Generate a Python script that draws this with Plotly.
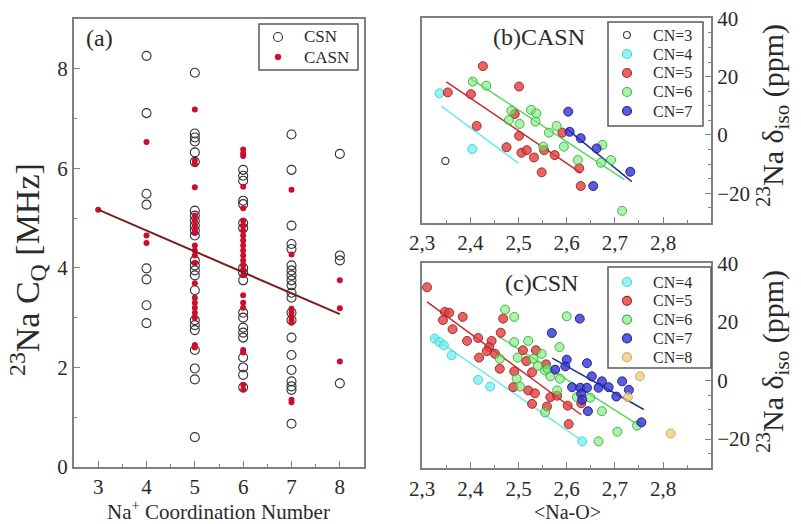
import plotly.graph_objects as go

# ---------------- Panel (a) data: 23Na CQ [MHz] by coordination number ----------------
csn_cn4 = [8.26, 7.11, 5.49, 5.27, 3.99, 3.77, 3.25, 2.89]
csn_cn5 = [7.92, 6.70, 6.62, 6.54, 6.32, 6.13, 5.15, 5.05, 4.95, 4.85, 4.75, 4.65,
           4.15, 4.05, 3.95, 3.85, 3.55, 2.95, 2.85, 2.75, 2.35, 1.98, 1.76, 0.60]
csn_cn6 = [5.97, 5.85, 5.75, 5.35, 5.28, 4.90, 4.80, 4.00, 3.90, 3.75, 3.10, 3.00,
           2.80, 2.70, 2.60, 2.20, 2.00, 1.85, 1.60]
csn_cn7 = [6.68, 5.97, 4.85, 4.48, 4.38, 4.05, 3.95, 3.85, 3.75, 3.65, 3.50, 3.40,
           3.10, 2.95, 2.60, 2.25, 1.95, 1.72, 1.62, 1.55, 0.87]
csn_cn8 = [6.29, 4.25, 4.15, 1.68]

casn_cn3 = [5.17]
casn_cn4 = [6.53, 4.65, 4.50]
casn_cn5 = [7.18, 6.15, 6.08, 5.62, 5.05, 4.95, 4.85, 4.75, 4.70, 4.45, 4.35, 4.25,
            4.10, 3.69, 3.40, 3.30, 3.20, 3.10, 3.00, 2.45, 2.40]
casn_cn6 = [6.38, 6.30, 6.25, 5.63, 5.20, 4.95, 4.85, 4.75, 4.65, 4.55, 4.45, 4.35,
            4.25, 4.15, 4.05, 3.95, 3.85, 3.45, 3.30, 3.20, 2.35, 2.30, 1.65, 1.55]
casn_cn7 = [5.57, 4.27, 3.18, 3.10, 3.02, 2.95, 2.90, 1.35, 1.30]
casn_cn8 = [3.75, 3.19, 2.12]

fit_a_x = [3, 8]
fit_a_slope = -0.42
fit_a_intercept = 6.43

# ---------------- Panel (b) CASN: <Na-O> vs delta_iso ----------------
b_cn3_x = [2.348]
b_cn3_y = [-8.9]
b_cn4_x = [2.336, 2.404]
b_cn4_y = [14.3, -4.8]
b_cn5_x = [2.426, 2.353, 2.401, 2.501, 2.413, 2.492, 2.501, 2.475, 2.506, 2.517, 2.532,
           2.553, 2.575, 2.548, 2.591, 2.626, 2.629]
b_cn5_y = [23.6, 14.6, 14.0, 16.6, 3.1, 7.2, -0.3, -4.2, -6.1, -5.2, -7.7,
           -5.2, -6.9, -12.8, 0.8, -11.4, -17.5]
b_cn6_x = [2.405, 2.433, 2.485, 2.480, 2.502, 2.526, 2.537, 2.535, 2.563, 2.579, 2.551,
           2.594, 2.623, 2.674, 2.692, 2.671, 2.715]
b_cn6_y = [18.3, 16.9, 8.3, 5.1, 3.8, 8.6, 7.4, 4.6, 0.8, 3.1, -4.0,
           -4.0, -8.6, -3.4, -8.6, -9.5, -26.0]
b_cn7_x = [2.603, 2.606, 2.629, 2.662, 2.655, 2.732]
b_cn7_y = [8.0, 1.1, -1.1, -4.6, -17.5, -12.6]

# linear fits (slope, intercept, x-span) per CN, panel b
b_fit_cn = [4, 5, 6, 7]
b_fit_slope = [-122.0, -111.7, -108.5, -134.0]
b_fit_intercept = [295.3, 280.7, 279.8, 350.5]
b_fit_x0 = [2.34, 2.35, 2.40, 2.60]
b_fit_x1 = [2.50, 2.63, 2.72, 2.735]

# ---------------- Panel (c) CSN ----------------
c_cn4_x = [2.326, 2.336, 2.345, 2.361, 2.416, 2.441, 2.632]
c_cn4_y = [14.3, 13.1, 12.0, 8.6, 0.2, -2.1, -20.8]
c_cn5_x = [2.310, 2.347, 2.356, 2.343, 2.384, 2.363, 2.393, 2.416, 2.444, 2.439, 2.418,
           2.434, 2.451, 2.468, 2.463, 2.461, 2.491, 2.509, 2.516, 2.536, 2.528, 2.489,
           2.520, 2.534, 2.557, 2.528, 2.566, 2.559, 2.580, 2.602, 2.604, 2.630]
c_cn5_y = [31.8, 23.4, 23.1, 20.6, 21.7, 17.5, 13.5, 14.5, 13.5, 11.4, 7.8,
           10.0, 9.1, 21.1, 16.3, 4.0, 3.1, 10.3, 6.6, 10.3, 2.8, -2.3,
           -3.4, -4.4, 5.5, -8.0, -5.7, -8.9, -5.2, -8.6, -14.9, -7.8]
c_cn6_x = [2.472, 2.491, 2.600, 2.491, 2.520, 2.548, 2.531, 2.498, 2.461, 2.585, 2.496,
           2.503, 2.555, 2.566, 2.586, 2.580, 2.621, 2.649, 2.673, 2.705, 2.666, 2.746,
           2.555, 2.540, 2.560]
c_cn6_y = [24.2, 21.7, 21.9, 13.1, 13.5, 9.1, 7.4, 7.8, 7.4, 11.4, 0.6,
           -2.1, 3.4, 1.4, 0.6, -3.4, -5.7, -5.9, -10.5, -17.5, -20.8, -15.4,
           -10.9, 5.0, 4.0]
c_cn7_x = [2.569, 2.600, 2.576, 2.627, 2.597, 2.642, 2.652, 2.673, 2.666, 2.687, 2.715,
           2.729, 2.703, 2.611, 2.628, 2.642, 2.630, 2.632, 2.644, 2.755]
c_cn7_y = [16.2, 7.1, 3.7, 21.1, 4.8, 5.9, 1.4, -0.3, -2.5, -2.3, -0.3,
           -3.2, -5.5, -2.3, -2.5, -2.5, -4.6, -6.6, -10.5, -14.3]
c_cn8_x = [2.752, 2.727, 2.816]
c_cn8_y = [1.4, -5.7, -18.1]

c_fit_cn = [4, 5, 6, 7]
c_fit_slope = [-114.2, -120.5, -104.2, -92.4]
c_fit_intercept = [280.0, 305.2, 271.2, 245.1]
c_fit_x0 = [2.32, 2.31, 2.46, 2.57]
c_fit_x1 = [2.63, 2.63, 2.75, 2.76]

# ---------------- styles ----------------
FONT = "Liberation Serif"
TXT = "#2a2a2a"
AX = "#808080"
fill = {3: "rgba(0,0,0,0)", 4: "rgba(110,240,240,0.75)", 5: "rgba(228,60,60,0.8)",
        6: "rgba(120,232,120,0.6)", 7: "rgba(50,50,215,0.8)", 8: "rgba(240,200,120,0.75)"}
edge = {3: "#444444", 4: "rgba(70,205,205,0.9)", 5: "rgba(150,35,35,0.9)",
        6: "rgba(50,175,50,0.9)", 7: "rgba(25,25,120,0.9)", 8: "rgba(205,165,85,0.9)"}
linec = {4: "#6eeaea", 5: "#c42a2a", 6: "#5ad85a", 7: "#24308f"}
CSN_STYLE = dict(fill="rgba(0,0,0,0)", edge="#333333", r=4.5, lw=1.1)
CASN_STYLE = dict(fill="#c8102e", edge="#c8102e", r=3.0, lw=0.5)

W, H = 801, 524
fig = go.Figure()

# Panel (a)
csn_sets = [(4, csn_cn4), (5, csn_cn5), (6, csn_cn6), (7, csn_cn7), (8, csn_cn8)]
casn_sets = [(3, casn_cn3), (4, casn_cn4), (5, casn_cn5), (6, casn_cn6), (7, casn_cn7), (8, casn_cn8)]
cx, cy = [], []
for cn, vals in csn_sets:
    cx += [cn] * len(vals)
    cy += vals
ax_, ay_ = [], []
for cn, vals in casn_sets:
    ax_ += [cn] * len(vals)
    ay_ += vals

fig.add_trace(go.Scatter(x=cx, y=cy, mode="markers", name="CSN",
                         marker=dict(symbol="circle-open", size=2 * CSN_STYLE["r"],
                                     color=CSN_STYLE["edge"], line=dict(width=CSN_STYLE["lw"])),
                         xaxis="x", yaxis="y"))
fig.add_trace(go.Scatter(x=ax_, y=ay_, mode="markers", name="CASN",
                         marker=dict(symbol="circle", size=2 * CASN_STYLE["r"], color=CASN_STYLE["fill"]),
                         xaxis="x", yaxis="y"))
fig.add_trace(go.Scatter(x=fit_a_x, y=[fit_a_intercept + fit_a_slope * v for v in fit_a_x],
                         mode="lines", line=dict(color="#7a1f1f", width=2),
                         xaxis="x", yaxis="y"))

# Panel (b)
b_sets = [(3, b_cn3_x, b_cn3_y), (4, b_cn4_x, b_cn4_y), (5, b_cn5_x, b_cn5_y),
          (6, b_cn6_x, b_cn6_y), (7, b_cn7_x, b_cn7_y)]
for i, cn in enumerate(b_fit_cn):
    xs = [b_fit_x0[i], b_fit_x1[i]]
    fig.add_trace(go.Scatter(x=xs, y=[b_fit_intercept[i] + b_fit_slope[i] * v for v in xs],
                             mode="lines", line=dict(color=linec[cn], width=1.5),
                             xaxis="x2", yaxis="y2"))
for cn, xs, ys in b_sets:
    if cn == 3:
        mk = dict(symbol="circle-open", size=7, color=edge[3], line=dict(width=1.3))
    else:
        mk = dict(symbol="circle", size=9, color=fill[cn], line=dict(color=edge[cn], width=1))
    fig.add_trace(go.Scatter(x=xs, y=ys, mode="markers", name=f"CN={cn}", marker=mk,
                             xaxis="x2", yaxis="y2"))

# Panel (c)
c_sets = [(4, c_cn4_x, c_cn4_y), (5, c_cn5_x, c_cn5_y), (6, c_cn6_x, c_cn6_y),
          (7, c_cn7_x, c_cn7_y), (8, c_cn8_x, c_cn8_y)]
for i, cn in enumerate(c_fit_cn):
    xs = [c_fit_x0[i], c_fit_x1[i]]
    fig.add_trace(go.Scatter(x=xs, y=[c_fit_intercept[i] + c_fit_slope[i] * v for v in xs],
                             mode="lines", line=dict(color=linec[cn], width=1.5),
                             xaxis="x3", yaxis="y3"))
for cn, xs, ys in c_sets:
    mk = dict(symbol="circle", size=9, color=fill[cn], line=dict(color=edge[cn], width=1))
    fig.add_trace(go.Scatter(x=xs, y=ys, mode="markers", name=f"CN={cn}", marker=mk,
                             xaxis="x3", yaxis="y3"))


def axis(**kw):
    base = dict(showline=True, linecolor=AX, linewidth=2, mirror=True, ticks="inside",
                ticklen=6, tickwidth=1.3, tickcolor=AX, showgrid=False, zeroline=False,
                automargin=False,
                tickfont=dict(family=FONT, size=21, color=TXT))
    base.update(kw)
    return base


ax_dom = [74 / W, 364 / W]
bc_dom = [422 / W, 711 / W]

fig.update_layout(
    width=W, height=H, margin=dict(l=0, r=0, t=0, b=0),
    paper_bgcolor="white", plot_bgcolor="white",
    separators=",.", showlegend=False,
    font=dict(family=FONT, color=TXT),
    xaxis=axis(domain=ax_dom, range=[2.5, 8.5], dtick=1, tick0=3, anchor="y",
               minor=dict(dtick=0.5, ticks="inside", ticklen=3, tickcolor=AX)),
    yaxis=axis(domain=[1 - 467 / H, 1 - 19 / H], range=[0, 9], dtick=2, tick0=0, anchor="x",
               minor=dict(dtick=1, ticks="inside", ticklen=3, tickcolor=AX)),
    xaxis2=axis(domain=bc_dom, range=[2.2995, 2.8995], dtick=0.1, tick0=2.3, tickformat=".1f",
                anchor="y2", minor=dict(dtick=0.05, ticks="inside", ticklen=3, tickcolor=AX)),
    yaxis2=axis(domain=[1 - 222.5 / H, 1 - 18.3 / H], range=[-30, 40], dtick=20, tick0=0,
                side="right", anchor="x2",
                minor=dict(dtick=5, ticks="inside", ticklen=3, tickcolor=AX)),
    xaxis3=axis(domain=bc_dom, range=[2.2995, 2.8995], dtick=0.1, tick0=2.3, tickformat=".1f",
                anchor="y3", minor=dict(dtick=0.05, ticks="inside", ticklen=3, tickcolor=AX)),
    yaxis3=axis(domain=[1 - 468.3 / H, 1 - 263.3 / H], range=[-30, 40], dtick=20, tick0=0,
                side="right", anchor="x3",
                minor=dict(dtick=5, ticks="inside", ticklen=3, tickcolor=AX)),
)


def text(t, x, y, size, angle=0, anchor="center"):
    fig.add_annotation(text=t, x=x / W, y=1 - y / H, xref="paper", yref="paper",
                       xanchor=anchor, yanchor="middle", showarrow=False,
                       textangle=angle, font=dict(family=FONT, size=size, color=TXT))


# panel labels and axis titles
text("(a)", 99, 38, 24)
text("(b)CASN", 539, 37, 24)
text("(c)CSN", 541, 283, 24)
text("<sup>23</sup>Na C<sub>Q</sub> [MHz]", 27, 270, 34, angle=-90)
text("Na<sup>+</sup> Coordination Number", 218, 510, 21)
text("<sup>23</sup>Na δ<sub>iso</sub> (ppm)", 772, 116, 30, angle=-90)
text("<sup>23</sup>Na δ<sub>iso</sub> (ppm)", 772, 362, 30, angle=-90)
text("&lt;Na-O&gt;", 567, 512, 20)


# legends: framed boxes with sample markers and labels
def legend_box(x0, x1, y0, y1):
    fig.add_shape(type="rect", xref="paper", yref="paper",
                  x0=x0 / W, x1=x1 / W, y0=1 - y1 / H, y1=1 - y0 / H,
                  line=dict(color="#5a5a5a", width=1.5), fillcolor="white", layer="above")


def legend_item(label, mx, tx, y, f, e, r, lw, size):
    fig.add_shape(type="circle", xref="paper", yref="paper",
                  x0=(mx - r) / W, x1=(mx + r) / W, y0=1 - (y + r) / H, y1=1 - (y - r) / H,
                  fillcolor=f, line=dict(color=e, width=lw), layer="above")
    text(label, tx, y, size, anchor="left")


legend_box(259, 358, 24, 70)
legend_item("CSN", 278, 302, 37, CSN_STYLE["fill"], CSN_STYLE["edge"], CSN_STYLE["r"], CSN_STYLE["lw"], 17)
legend_item("CASN", 278, 302, 57, CASN_STYLE["fill"], CASN_STYLE["edge"], CASN_STYLE["r"], CASN_STYLE["lw"], 17)

legend_box(608, 703, 22, 126)
for i, (cn, _, _) in enumerate(b_sets):
    r = 3.5 if cn == 3 else 4.5
    legend_item(f"CN={cn}", 627, 651, 35 + 19 * i, fill[cn], edge[cn], r, 1.2, 16)

legend_box(608, 711, 267, 368)
for i, (cn, _, _) in enumerate(c_sets):
    legend_item(f"CN={cn}", 627, 651, 282 + 18.8 * i, fill[cn], edge[cn], 4.5, 1.2, 16)

fig.write_html("out.html")
